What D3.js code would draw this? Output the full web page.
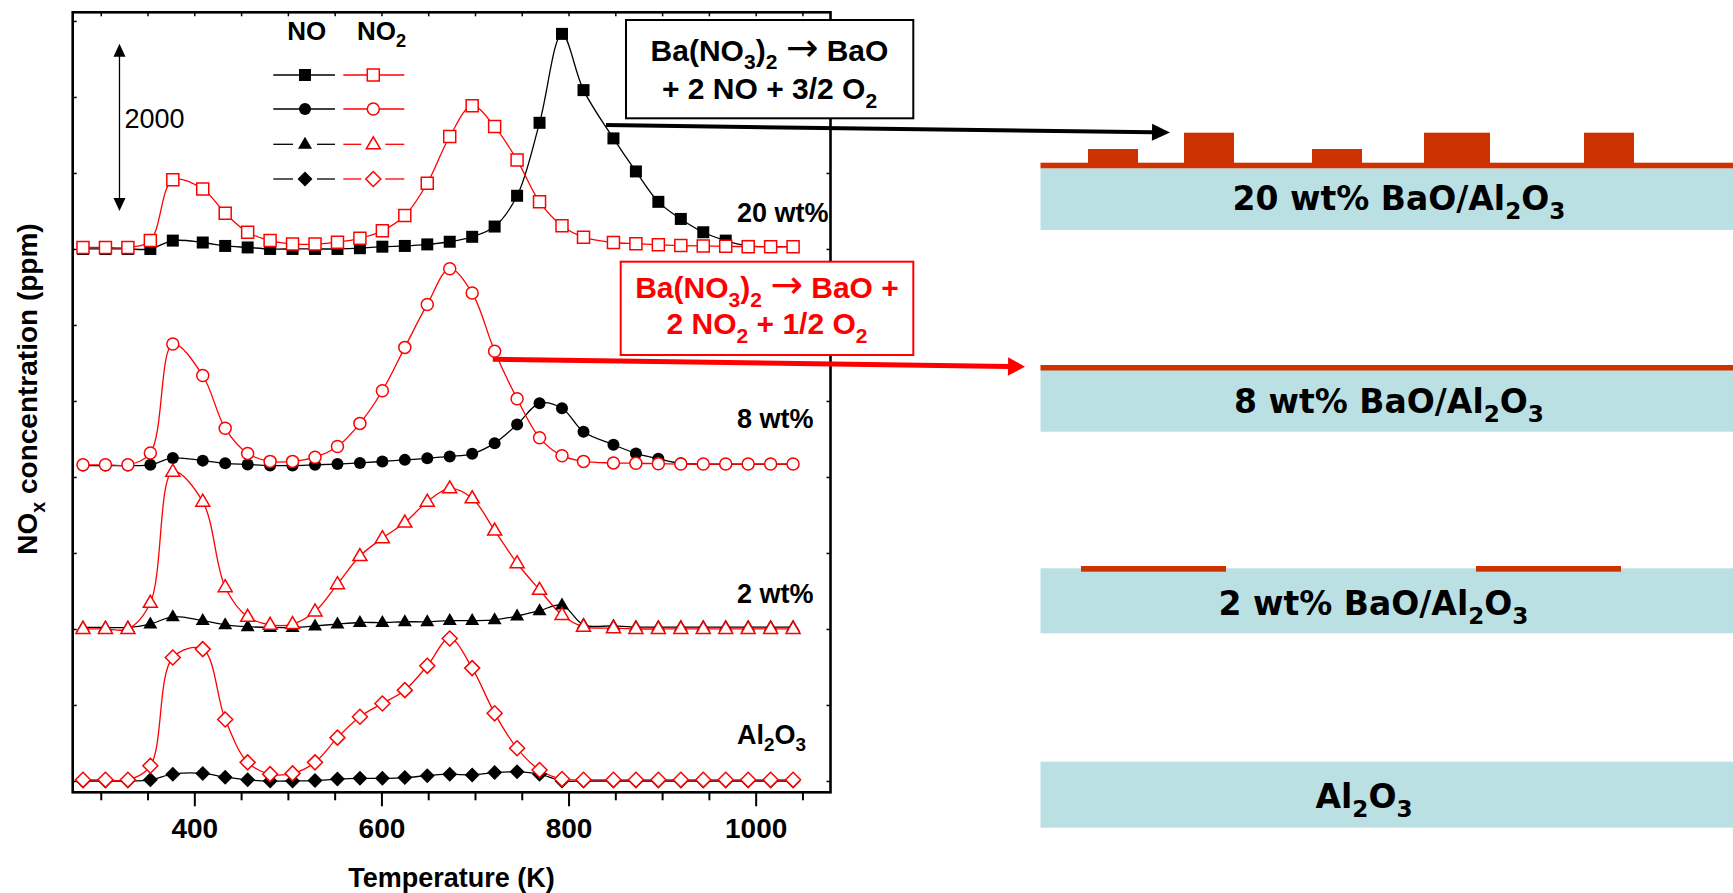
<!DOCTYPE html>
<html>
<head>
<meta charset="utf-8">
<script src="https://cdn.jsdelivr.net/npm/d3@7"></script>
<style>
    body { margin: 0; background: #fff; }
    svg { display: block; font-family: 'Liberation Sans', Arial, sans-serif; }
</style>
</head>
<body>
<div id="chart-area"></div>
<script>
// DATA
// =================

// temperature of every sample point (K)
var temps = [281, 305, 329, 353, 377, 409, 433, 457, 481, 505, 529, 553, 577, 601, 625, 649,
             673, 697, 721, 745, 769, 793, 816, 848, 872, 896, 920, 944, 968, 992, 1016, 1040];

var samples = ['20 wt%', '8 wt%', '2 wt%', 'Al_2O_3'];
var offsets = [7000, 4150, 2000, 0];          // ppm shift of each trace
var labelPpm = [7360, 4640, 2340, 490];       // where the sample names sit
var shapes = ['square', 'circle', 'triangle', 'diamond'];

// NO (ppm)
var no20  = [0, 0, 0, 0, 110, 85, 40, 20, 0, 0, 0, 0, 10, 30, 40, 60, 95, 160, 295, 700, 1660, 2830, 2090, 1455, 1020, 620, 395, 220, 110, 40, 30, 30];
var no8   = [0, 0, 0, 10, 100, 65, 30, 15, 0, 0, 10, 20, 35, 55, 75, 95, 120, 155, 295, 540, 820, 755, 445, 275, 160, 90, 30, 20, 20, 20, 20, 20];
var no2w  = [20, 20, 20, 65, 160, 110, 55, 30, 20, 20, 40, 65, 85, 85, 95, 95, 110, 110, 120, 170, 240, 315, 55, 40, 25, 25, 25, 25, 25, 25, 25, 25];
var noAl  = [0, 0, 0, 15, 90, 100, 50, 15, 0, 0, 5, 25, 35, 35, 45, 70, 90, 80, 110, 120, 90, 0, 0, 0, 0, 0, 0, 0, 0, 0, 0, 0];

// NO2 (ppm)
var no2_20 = [20, 20, 20, 110, 910, 790, 470, 220, 110, 65, 65, 90, 140, 240, 440, 865, 1480, 1885, 1610, 1170, 620, 305, 155, 85, 70, 55, 45, 40, 35, 30, 30, 30];
var no2_8  = [10, 10, 10, 165, 1600, 1185, 490, 160, 55, 55, 110, 250, 555, 985, 1555, 2120, 2590, 2270, 1505, 880, 365, 130, 55, 35, 30, 25, 20, 20, 20, 20, 20, 20];
var no2_2w = [0, 0, 0, 345, 2070, 1675, 550, 160, 55, 65, 230, 590, 960, 1195, 1400, 1675, 1850, 1720, 1295, 865, 515, 185, 30, 10, 0, 0, 0, 0, 0, 0, 0, 0];
var no2_Al = [15, 15, 15, 200, 1625, 1735, 810, 245, 90, 100, 245, 570, 845, 1020, 1195, 1515, 1875, 1485, 890, 430, 145, 25, 15, 15, 15, 15, 15, 15, 15, 15, 15, 15];

var noSeries = [no20, no8, no2w, noAl];
var no2Series = [no2_20, no2_8, no2_2w, no2_Al];

// ticks
var xMajor = [400, 600, 800, 1000];
var xMinor = [300, 350, 450, 500, 550, 650, 700, 750, 850, 900, 950, 1050];
var xTop = [300, 350, 400, 450, 500, 550, 600, 650, 700, 750, 800, 850, 900, 950, 1000, 1050];
var yTicks = [0, 1000, 2000, 3000, 4000, 5000, 6000, 7000, 8000, 9000, 10000];

// scale bar (ppm)
var scaleBar = {temp: 320, from: 7500, to: 9700, label: '2000'};

// schematic labels
var layerLabels = ['20 wt% BaO/Al_2O_3', '8 wt% BaO/Al_2O_3', '2 wt% BaO/Al_2O_3', 'Al_2O_3'];

// CANVAS + MARGINS
// =================
var W = 1733, H = 893;
var margin = {left: 72.7, top: 12.3};
var width = 757.8, height = 780;

var svg = d3.select('#chart-area')
    .append('svg')
        .attr('width', W)
        .attr('height', H);

var g = svg.append('g')
    .attr('transform', 'translate(' + margin.left + ',' + margin.top + ')');

var x = d3.scaleLinear().domain([270, 1080]).range([0, width]);
var y = d3.scaleLinear().domain([-149, 10114]).range([height, 0]);

// text with "_x" subscripts, arrow drawn in a wider font
function rich(sel, str, fs) {
    var parts = str.split(/(_.|\u2192)/);
    var down = false;
    parts.forEach(function (p) {
        if (!p) return;
        var t;
        if (p[0] === '_') {
            sel.append('tspan').attr('dy', fs * 0.28).attr('font-size', fs * 0.7).text(p[1]);
            down = true;
            return;
        }
        if (p === '\u2192') {
            t = sel.append('tspan')
                .attr('font-family', 'DejaVu Sans, sans-serif')
                .attr('font-weight', 'normal')
                .attr('font-size', fs * 1.3)
                .text(p);
        } else {
            t = sel.append('tspan').text(p);
        }
        if (down) { t.attr('dy', -fs * 0.28); down = false; }
    });
    return sel;
}

// marker paths
function marker(shape) {
    if (shape === 'square') return 'M-6,-6H6V6H-6Z';
    if (shape === 'circle') return 'M6,0A6,6 0 1,1 -6,0A6,6 0 1,1 6,0Z';
    if (shape === 'triangle') return 'M0,-7.5L7,4.5H-7Z';
    return 'M0,-7.5L7.5,0L0,7.5L-7.5,0Z';
}

// AXES
// =================
function styleAxis(sel, sw) {
    sel.select('.domain').remove();
    sel.selectAll('line').attr('stroke', '#000').attr('stroke-width', sw);
}

g.append('g')
    .attr('transform', 'translate(0,' + height + ')')
    .call(d3.axisBottom(x).tickValues(xMinor).tickSize(8).tickFormat(''))
    .call(styleAxis, 2);

var xAx = g.append('g')
    .attr('transform', 'translate(0,' + height + ')')
    .call(d3.axisBottom(x).tickValues(xMajor).tickSize(14).tickFormat(d3.format('d')))
    .call(styleAxis, 2);
xAx.selectAll('text')
    .attr('y', 46)
    .attr('dy', 0)
    .attr('fill', '#000')
    .attr('font-size', '28px')
    .attr('font-weight', 'bold')
    .attr('font-family', 'Liberation Sans, Arial, sans-serif');

g.append('g')
    .call(d3.axisTop(x).tickValues(xTop).tickSize(-4).tickFormat(''))
    .call(styleAxis, 1.5);

g.append('g')
    .call(d3.axisLeft(y).tickValues(yTicks).tickSize(-4).tickFormat(''))
    .call(styleAxis, 1.5);

g.append('g')
    .attr('transform', 'translate(' + width + ',0)')
    .call(d3.axisRight(y).tickValues(yTicks).tickSize(-4).tickFormat(''))
    .call(styleAxis, 1.5);

g.append('rect')
    .attr('width', width)
    .attr('height', height)
    .attr('fill', 'none')
    .attr('stroke', '#000')
    .attr('stroke-width', 2.6);

// LABELS
// =================
svg.append('text')
    .attr('x', margin.left + width / 2)
    .attr('y', 887)
    .attr('text-anchor', 'middle')
    .attr('font-size', '27px')
    .attr('font-weight', 'bold')
    .text('Temperature (K)');

rich(svg.append('text')
    .attr('transform', 'translate(37,389) rotate(-90)')
    .attr('text-anchor', 'middle')
    .attr('font-size', '28px')
    .attr('font-weight', 'bold'), 'NO_x concentration (ppm)', 28);

// TRACES
// =================
var line = d3.line()
    .x(function (d) { return x(d.t); })
    .y(function (d) { return y(d.v); })
    .curve(d3.curveCatmullRom.alpha(0.5));

function pts(vals, off) {
    return vals.map(function (v, i) { return {t: temps[i], v: v + off}; });
}

samples.forEach(function (s, k) {
    var noPts = pts(noSeries[k], offsets[k]);
    var no2Pts = pts(no2Series[k], offsets[k]);

    g.append('path').datum(noPts)
        .attr('d', line).attr('fill', 'none').attr('stroke', '#000').attr('stroke-width', 1.3);
    g.append('path').datum(no2Pts)
        .attr('d', line).attr('fill', 'none').attr('stroke', '#ff0000').attr('stroke-width', 1.3);

    g.selectAll(null).data(noPts).enter()
        .append('path')
        .attr('transform', function (d) { return 'translate(' + x(d.t) + ',' + y(d.v) + ')'; })
        .attr('d', marker(shapes[k]))
        .attr('fill', '#000');

    g.selectAll(null).data(no2Pts).enter()
        .append('path')
        .attr('transform', function (d) { return 'translate(' + x(d.t) + ',' + y(d.v) + ')'; })
        .attr('d', marker(shapes[k]))
        .attr('fill', '#fff')
        .attr('stroke', '#ff0000')
        .attr('stroke-width', 1.5);

    rich(g.append('text')
        .attr('x', x(980))
        .attr('y', y(labelPpm[k]))
        .attr('font-size', '27px')
        .attr('font-weight', 'bold'), s, 27);
});

// LEGEND
// =================
svg.append('text')
    .attr('x', 306.7).attr('y', 40)
    .attr('text-anchor', 'middle')
    .attr('font-size', '26px').attr('font-weight', 'bold')
    .text('NO');
rich(svg.append('text')
    .attr('x', 357).attr('y', 40)
    .attr('font-size', '26px').attr('font-weight', 'bold'), 'NO_2', 26);

var legRows = [75, 109, 144.3, 179];
shapes.forEach(function (sh, k) {
    var ly = legRows[k];
    [{x0: 273.3, x1: 335, mx: 305, c: '#000', fill: '#000'},
     {x0: 343.3, x1: 404.3, mx: 373.3, c: '#ff0000', fill: '#fff'}].forEach(function (e) {
        var segs = k < 2 ? [[e.x0, e.x1]] : [[e.x0, e.mx - 12], [e.mx + 12, e.x1]];
        segs.forEach(function (sg) {
            svg.append('line')
                .attr('x1', sg[0]).attr('x2', sg[1]).attr('y1', ly).attr('y2', ly)
                .attr('stroke', e.c).attr('stroke-width', 1.3);
        });
        svg.append('path')
            .attr('transform', 'translate(' + e.mx + ',' + ly + ')')
            .attr('d', marker(sh))
            .attr('fill', e.fill)
            .attr('stroke', e.c === '#000' ? 'none' : e.c)
            .attr('stroke-width', 1.5);
    });
});

// scale bar
var sbx = x(scaleBar.temp), sbTop = y(scaleBar.to), sbBot = y(scaleBar.from);
g.append('line')
    .attr('x1', sbx).attr('x2', sbx).attr('y1', sbTop + 10).attr('y2', sbBot - 10)
    .attr('stroke', '#000').attr('stroke-width', 1.3);
g.append('path')
    .attr('d', 'M' + sbx + ',' + sbTop + 'l6,13h-12z' + 'M' + sbx + ',' + sbBot + 'l6,-13h-12z')
    .attr('fill', '#000');
g.append('text')
    .attr('x', sbx + 5).attr('y', (sbTop + sbBot) / 2 + 1)
    .attr('font-size', '27px')
    .text(scaleBar.label);

// SCHEMATIC
// =================
var sch = svg.append('g');
var barX0 = 1040.5, barX1 = W;
var blue = '#bbe0e3', rust = '#cc3300';

var bars = [
    {top: 168.3, bottom: 230, tx: 1399, ty: 210},
    {top: 370, bottom: 431.7, tx: 1389, ty: 413},
    {top: 568.3, bottom: 633.3, tx: 1373.5, ty: 615},
    {top: 761.7, bottom: 827.7, tx: 1364, ty: 808}
];
bars.forEach(function (b, k) {
    sch.append('rect')
        .attr('x', barX0).attr('y', b.top)
        .attr('width', barX1 - barX0).attr('height', b.bottom - b.top)
        .attr('fill', blue);
    rich(sch.append('text')
        .attr('x', b.tx).attr('y', b.ty)
        .attr('text-anchor', 'middle')
        .attr('font-family', "'Comic Sans MS', 'DejaVu Sans', sans-serif")
        .attr('font-size', '33px').attr('font-weight', 'bold'), layerLabels[k], 33);
});

// BaO on the support
sch.append('rect').attr('x', barX0).attr('y', 162.7).attr('width', barX1 - barX0).attr('height', 5.6).attr('fill', rust);
[[1088, 1138, 149], [1184, 1234, 132.7], [1312, 1362, 149], [1424, 1490, 132.7], [1584, 1634, 132.7]]
    .forEach(function (c) {
        sch.append('rect').attr('x', c[0]).attr('y', c[2]).attr('width', c[1] - c[0]).attr('height', 162.7 - c[2] + 1).attr('fill', rust);
    });
sch.append('rect').attr('x', barX0).attr('y', 365).attr('width', barX1 - barX0).attr('height', 5.5).attr('fill', rust);
[[1081, 1226], [1476, 1621]].forEach(function (c) {
    sch.append('rect').attr('x', c[0]).attr('y', 566).attr('width', c[1] - c[0]).attr('height', 5.7).attr('fill', rust);
});

// ANNOTATIONS
// =================
function arrow(x0, y0, x1, y1, col, sw, hl, hw) {
    var a = Math.atan2(y1 - y0, x1 - x0);
    var bx = x1 - hl * Math.cos(a), by = y1 - hl * Math.sin(a);
    svg.append('line')
        .attr('x1', x0).attr('y1', y0).attr('x2', bx + Math.cos(a)).attr('y2', by + Math.sin(a))
        .attr('stroke', col).attr('stroke-width', sw);
    svg.append('path')
        .attr('d', 'M' + x1 + ',' + y1 +
            'L' + (bx - hw * Math.sin(a)) + ',' + (by + hw * Math.cos(a)) +
            'L' + (bx + hw * Math.sin(a)) + ',' + (by - hw * Math.cos(a)) + 'Z')
        .attr('fill', col);
}

function box(x0, y0, x1, y1, col, lines, cx, base) {
    svg.append('rect')
        .attr('x', x0).attr('y', y0).attr('width', x1 - x0).attr('height', y1 - y0)
        .attr('fill', '#fff').attr('stroke', col).attr('stroke-width', 2);
    lines.forEach(function (l, i) {
        rich(svg.append('text')
            .attr('x', cx).attr('y', base[i])
            .attr('text-anchor', 'middle')
            .attr('fill', col)
            .attr('font-size', '30px').attr('font-weight', 'bold'), l, 30);
    });
}

box(626, 20, 913.3, 118.3, '#000', ['Ba(NO_3)_2 \u2192 BaO', '+ 2 NO + 3/2 O_2'], 769.5, [61, 99.3]);
box(620.7, 261.7, 913.3, 355, '#ff0000', ['Ba(NO_3)_2 \u2192 BaO +', '2 NO_2 + 1/2 O_2'], 767, [298.3, 334.3]);

arrow(margin.left + x(840), margin.top + y(8630), 1170, 132.5, '#000', 4, 18, 8.5);
arrow(margin.left + x(719), margin.top + y(5550), 1025, 366.7, '#ff0000', 5, 17, 9.3);
</script>
</body>
</html>
